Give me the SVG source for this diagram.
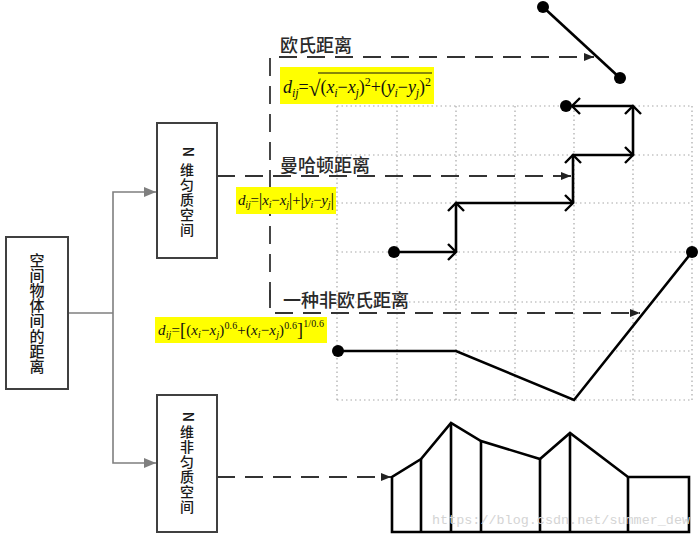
<svg xmlns="http://www.w3.org/2000/svg" width="700" height="536" viewBox="0 0 700 536">
<style>
.box{fill:#fff;stroke:#404040;stroke-width:2}
.cjk{font-family:"Noto Sans CJK SC","Noto Sans CJK JP",sans-serif;fill:#1a1a1a;font-weight:500}
.lbl{font-family:"Noto Sans CJK SC","Noto Sans CJK JP",sans-serif;fill:#2a2a2a;font-size:18px;font-weight:500}
.conn{fill:none;stroke:#7f7f7f;stroke-width:1.6}
.dash{fill:none;stroke:#333;stroke-width:1.8;stroke-dasharray:18 10}
.grid{fill:none;stroke:#a8a8a8;stroke-width:1.2;stroke-dasharray:1.5 3}
.sol{fill:none;stroke:#000;stroke-width:2.6}
.dot{fill:#000}
.hl{fill:#ffff00}
.f{font-family:"Liberation Serif",serif;fill:#111}
.it{font-style:italic}
</style>
<defs>
<marker id="tri" viewBox="0 0 10 8" refX="10" refY="4" markerWidth="10" markerHeight="8" markerUnits="userSpaceOnUse" orient="auto"><path d="M0,0 L10,4 L0,8 z" fill="#222"/></marker>
<marker id="gtri" viewBox="0 0 12 10" refX="12" refY="5" markerWidth="12" markerHeight="10" markerUnits="userSpaceOnUse" orient="auto"><path d="M0,0 L12,5 L0,10 z" fill="#7f7f7f"/></marker>
<marker id="chev" viewBox="-1 -1 11 18" refX="8" refY="8" markerWidth="11" markerHeight="18" markerUnits="userSpaceOnUse" orient="auto" overflow="visible"><path d="M0,0 L8,8 L0,16" fill="none" stroke="#000" stroke-width="2.4"/></marker>
</defs>

<!-- grid -->
<g id="grid">
<path class="grid" d="M337,106 H692 M337,155 H692 M337,203 H692 M337,252 H692 M337,302 H692 M337,351 H692 M337,400 H692"/>
<path class="grid" d="M337,106 V400 M397,106 V400 M456,106 V400 M515,106 V400 M574,106 V400 M633,106 V400 M692,106 V400"/>
</g>

<!-- connectors -->
<g id="connectors">
<path class="conn" d="M68,313 H113"/>
<path class="conn" d="M113,313 V192 H156" marker-end="url(#gtri)"/>
<path class="conn" d="M113,313 V463 H156" marker-end="url(#gtri)"/>
<path class="dash" d="M217,176 H571" marker-end="url(#tri)"/>
<path class="dash" d="M270,300 V57 H594" marker-end="url(#tri)"/>
<path class="dash" d="M270,290 V313 H640" marker-end="url(#tri)"/>
<path class="dash" d="M217,477 H391" marker-end="url(#tri)"/>
</g>

<!-- boxes -->
<g id="node-root">
<rect class="box" x="6" y="237" width="62" height="152"/>
<text class="cjk" font-size="15" text-anchor="middle" x="37 37 37 37 37 37 37 37" y="266 281 296 311 326 342 357 372">空间物体间的距离</text>
</g>
<g id="node-homog">
<rect class="box" x="157" y="123" width="60" height="135"/>
<text class="cjk" font-size="14" font-weight="bold" text-anchor="middle" transform="translate(188,152) rotate(90)" x="0" y="5">N</text>
<text class="cjk" font-size="14" text-anchor="middle" x="187 187 187 187 187" y="175 190 205 220 235">维匀质空间</text>
</g>
<g id="node-nonhomog">
<rect class="box" x="157" y="395" width="60" height="137"/>
<text class="cjk" font-size="14" font-weight="bold" text-anchor="middle" transform="translate(188,417) rotate(90)" x="0" y="5">N</text>
<text class="cjk" font-size="14" text-anchor="middle" x="187 187 187 187 187 187" y="437 452 467 482 497 512">维非匀质空间</text>
</g>

<!-- labels -->
<g id="label-euclid">
<text class="lbl" x="280" y="52">欧氏距离</text>
<rect class="hl" x="280" y="67" width="154" height="37"/>
<text class="f" font-size="18" x="283" y="93" textLength="148" lengthAdjust="spacing"><tspan class="it">d</tspan><tspan class="it" font-size="12" dy="4">ij</tspan><tspan dy="-4">=</tspan><tspan font-size="22" dy="3">√</tspan><tspan dy="-3">(</tspan><tspan class="it">x</tspan><tspan class="it" font-size="12" dy="4">i</tspan><tspan dy="-4">−</tspan><tspan class="it">x</tspan><tspan class="it" font-size="12" dy="4">j</tspan><tspan dy="-4">)</tspan><tspan font-size="12" dy="-7">2</tspan><tspan dy="7">+(</tspan><tspan class="it">y</tspan><tspan class="it" font-size="12" dy="4">i</tspan><tspan dy="-4">−</tspan><tspan class="it">y</tspan><tspan class="it" font-size="12" dy="4">j</tspan><tspan dy="-4">)</tspan><tspan font-size="12" dy="-7">2</tspan></text>
<line x1="318" y1="73" x2="432" y2="73" stroke="#111" stroke-width="1"/>
</g>
<g id="label-manhattan">
<text class="lbl" x="280" y="172">曼哈顿距离</text>
<rect class="hl" x="236" y="187" width="100" height="27"/>
<text class="f" font-size="15" x="238" y="205" textLength="96" lengthAdjust="spacing"><tspan class="it">d</tspan><tspan class="it" font-size="10" dy="3">ij</tspan><tspan dy="-3">=</tspan><tspan font-size="18" dy="1">|</tspan><tspan class="it" dy="-1">x</tspan><tspan class="it" font-size="10" dy="3">i</tspan><tspan dy="-3">−</tspan><tspan class="it">x</tspan><tspan class="it" font-size="10" dy="3">j</tspan><tspan font-size="18" dy="-2">|</tspan><tspan dy="-1">+</tspan><tspan font-size="18" dy="1">|</tspan><tspan class="it" dy="-1">y</tspan><tspan class="it" font-size="10" dy="3">i</tspan><tspan dy="-3">−</tspan><tspan class="it">y</tspan><tspan class="it" font-size="10" dy="3">j</tspan><tspan font-size="18" dy="-2">|</tspan></text>
</g>
<g id="label-noneuclid">
<text class="lbl" x="283" y="307">一种非欧氏距离</text>
<rect class="hl" x="155" y="317" width="172" height="26"/>
<text class="f" font-size="15" x="158" y="335" textLength="166" lengthAdjust="spacing"><tspan class="it">d</tspan><tspan class="it" font-size="10" dy="3">ij</tspan><tspan dy="-3">=</tspan><tspan font-size="18" dy="1">[</tspan><tspan dy="-1">(</tspan><tspan class="it">x</tspan><tspan class="it" font-size="10" dy="3">i</tspan><tspan dy="-3">−</tspan><tspan class="it">x</tspan><tspan class="it" font-size="10" dy="3">j</tspan><tspan dy="-3">)</tspan><tspan font-size="10" dy="-6">0.6</tspan><tspan dy="6">+(</tspan><tspan class="it">x</tspan><tspan class="it" font-size="10" dy="3">i</tspan><tspan dy="-3">−</tspan><tspan class="it">x</tspan><tspan class="it" font-size="10" dy="3">j</tspan><tspan dy="-3">)</tspan><tspan font-size="10" dy="-6">0.6</tspan><tspan font-size="18" dy="7">]</tspan><tspan font-size="10" dy="-9">1/0.6</tspan></text>
</g>

<!-- euclid figure -->
<g id="fig-euclid">
<line class="sol" x1="543" y1="7" x2="620" y2="78"/>
<circle class="dot" cx="543" cy="7" r="6"/>
<circle class="dot" cx="620" cy="78" r="6"/>
</g>

<!-- manhattan figure -->
<g id="fig-manhattan">
<circle class="dot" cx="394" cy="252" r="6"/>
<circle class="dot" cx="566" cy="106" r="6"/>
<path class="sol" d="M394,252 H456" marker-end="url(#chev)"/>
<path class="sol" d="M456,252 V203" marker-end="url(#chev)"/>
<path class="sol" d="M456,203 H573" marker-end="url(#chev)"/>
<path class="sol" d="M573,203 V155" marker-end="url(#chev)"/>
<path class="sol" d="M573,155 H633" marker-end="url(#chev)"/>
<path class="sol" d="M633,155 V106" marker-end="url(#chev)"/>
<path class="sol" d="M633,106 H572" marker-end="url(#chev)"/>
</g>

<!-- non-euclid figure -->
<g id="fig-noneuclid">
<polyline class="sol" points="338,351 456,351 574,400 692,252"/>
<circle class="dot" cx="338" cy="351" r="6"/>
<circle class="dot" cx="692" cy="252" r="6"/>
</g>

<!-- non-homogeneous figure -->
<g id="fig-terrain">
<path class="sol" d="M392,532 H689 V477 H628 L570,433 L540,459 L481,441 L451,423 L421,459 L392,477 Z"/>
<path class="sol" d="M421,459 V532 M451,423 V532 M481,441 V532 M540,459 V532 M570,433 V532 M628,477 V532"/>
</g>

<text x="432" y="524" font-family="Liberation Mono, monospace" font-size="13.4" fill="#d4d4d4" textLength="258">https://blog.csdn.net/summer_dew</text>
</svg>
